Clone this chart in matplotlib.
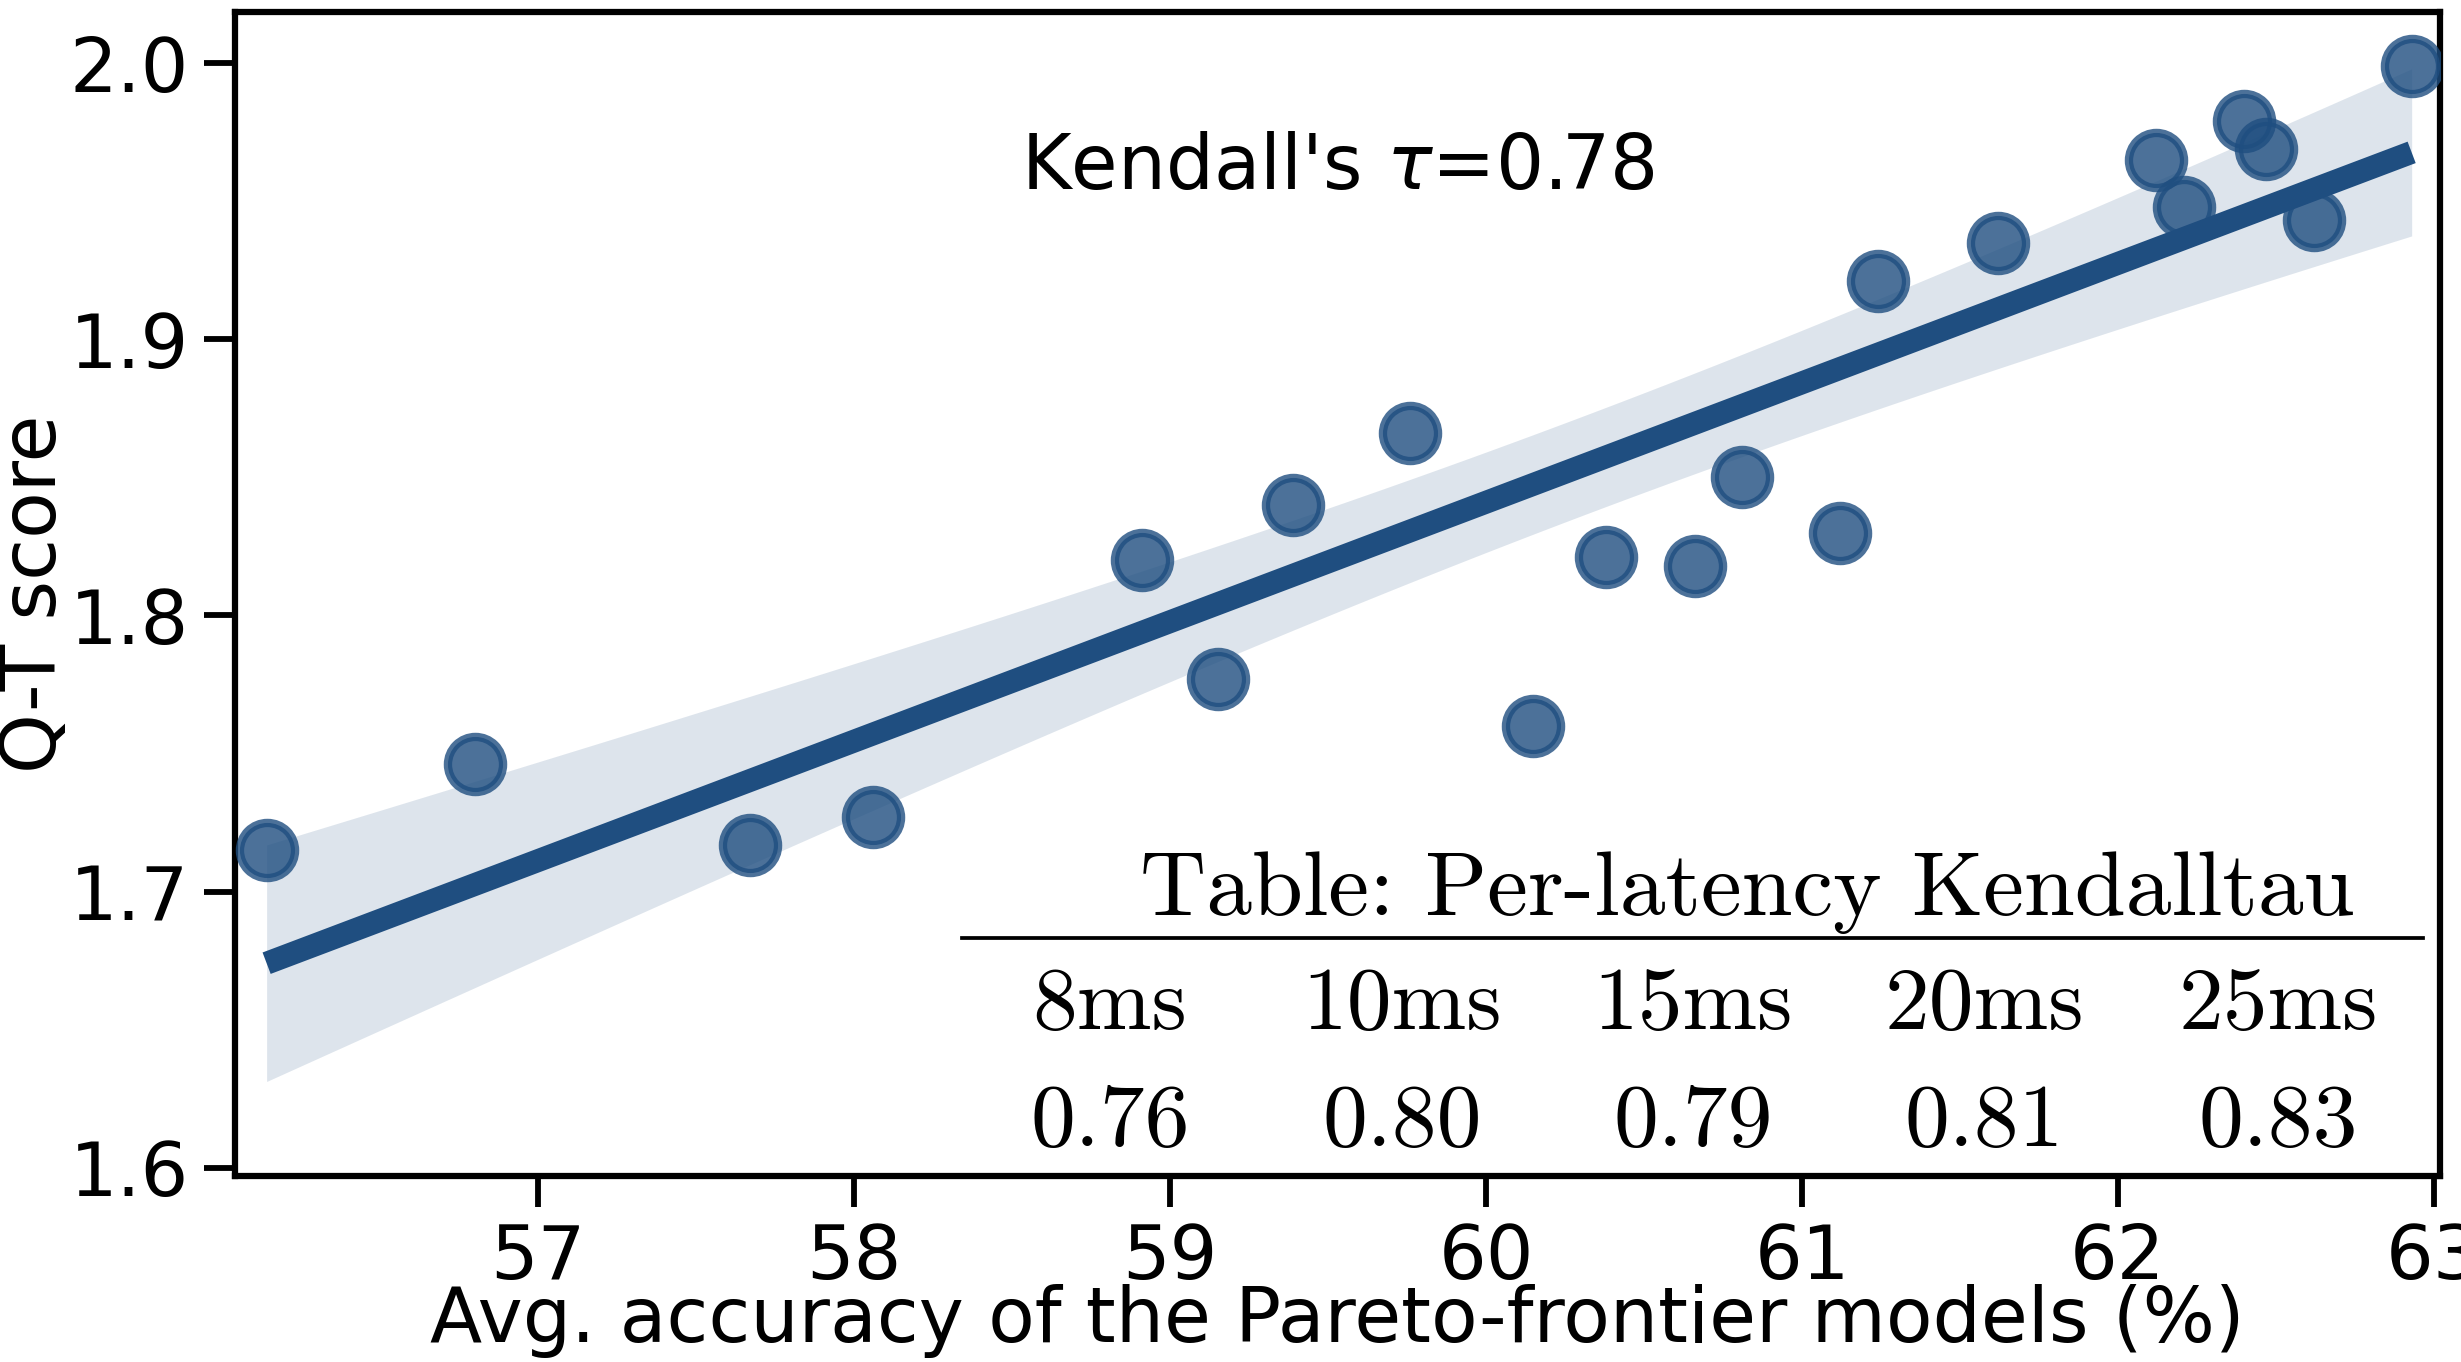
import numpy as np
import matplotlib
matplotlib.use("Agg")
import matplotlib.pyplot as plt

# ---- data ----
acc = [56.14, 56.80, 57.67, 58.06, 58.91, 59.15, 59.39, 59.76, 60.15, 60.38,
       60.66, 60.81, 61.12, 61.24, 61.62, 62.12, 62.21, 62.40, 62.47, 62.62, 62.93]
qt = [1.715, 1.746, 1.717, 1.727, 1.820, 1.777, 1.840, 1.866, 1.760, 1.821,
      1.818, 1.850, 1.830, 1.921, 1.935, 1.965, 1.948, 1.979, 1.969, 1.943, 1.999]
latencies = ["8ms", "10ms", "15ms", "20ms", "25ms"]
taus = ["0.76", "0.80", "0.79", "0.81", "0.83"]
kendall_text = r"Kendall's $\tau$=0.78"
table_title = "Table: Per-latency Kendalltau"
xticks = [57, 58, 59, 60, 61, 62, 63]
yticks = [1.6, 1.7, 1.8, 1.9, 2.0]

color = "#1f4e80"

x = np.array(acc)
y = np.array(qt)

fig = plt.figure(figsize=(2461 / 300, 1362 / 300), dpi=300)
ax = fig.add_axes([0.0955, 0.1366, 0.896, 0.8546])

# regression fit + 95% CI (analytic)
b1, b0 = np.polyfit(x, y, 1)
xs = np.linspace(x.min(), x.max(), 200)
ys = b0 + b1 * xs
n = len(x)
resid = y - (b0 + b1 * x)
s = np.sqrt(np.sum(resid ** 2) / (n - 2))
sxx = np.sum((x - x.mean()) ** 2)
tval = 2.093
se = s * np.sqrt(1.0 / n + (xs - x.mean()) ** 2 / sxx)
ax.fill_between(xs, ys - tval * se, ys + tval * se, color=color, alpha=0.15,
                linewidth=0, zorder=1)
ax.plot(xs, ys, color=color, lw=5.5, zorder=2, solid_capstyle="butt")
ax.scatter(x, y, s=175, color=color, alpha=0.8, edgecolor=color,
           linewidth=2.0, zorder=3)

ax.set_xlim(56.04, 63.02)
ax.set_ylim(1.597, 2.0185)
ax.set_xticks(xticks)
ax.set_xticklabels([str(t) for t in xticks])
ax.set_yticks(yticks)
ax.set_yticklabels([f"{t:.1f}" for t in yticks])

for sp in ax.spines.values():
    sp.set_linewidth(1.5)
ax.tick_params(axis="both", length=7.5, width=1.4, labelsize=18, pad=3.5)

ax.set_xlabel("Avg. accuracy of the Pareto-frontier models (%)", fontsize=18.3,
              labelpad=-2.5)
ax.set_ylabel("Q-T score", fontsize=18.3, labelpad=-0.5)

ax.text(0.5, 0.866, kendall_text, transform=ax.transAxes, ha="center",
        va="center", fontsize=18.2)

# inset table
ax.text(0.686, 0.2242, table_title, transform=ax.transAxes, ha="center",
        va="baseline", fontsize=22, family="cmr10")
ax.plot([0.3297, 0.9923], [0.2045, 0.2045], transform=ax.transAxes,
        color="black", lw=0.9, zorder=4)
col_x = [0.3968, 0.5293, 0.6612, 0.7932, 0.9265]
for cx, lat, tv in zip(col_x, latencies, taus):
    ax.text(cx, 0.1263, lat, transform=ax.transAxes, ha="center",
            va="baseline", fontsize=21.5, family="cmr10")
    ax.text(cx, 0.0258, tv, transform=ax.transAxes, ha="center",
            va="baseline", fontsize=21.5, family="cmr10")

fig.savefig("out.png", dpi=300)
